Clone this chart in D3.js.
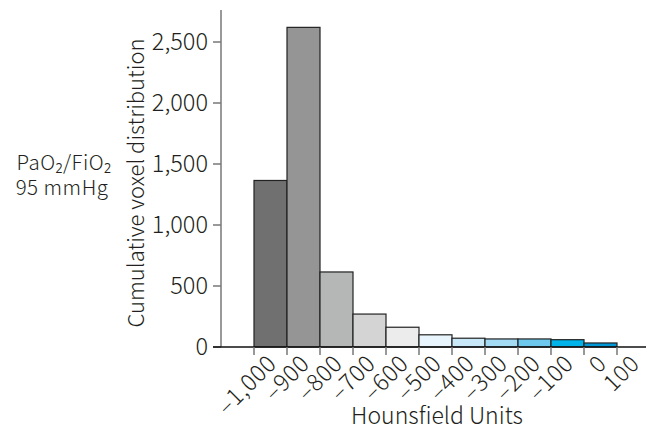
<!DOCTYPE html>
<html><head><meta charset="utf-8">
<script src="https://cdn.jsdelivr.net/npm/d3@7/dist/d3.min.js"></script>
<style>body{margin:0;background:#fff;} text{font-family:"Noto Sans CJK JP","Noto Sans",sans-serif;font-weight:300;fill:#231f20;}</style>
</head><body><svg id="c" width="646" height="431"></svg>
<script>
const binStarts = [-1000,-900,-800,-700,-600,-500,-400,-300,-200,-100,0];
const counts = [1365,2620,615,270,162,100,72,66,66,60,33];
const barColors = ["#707070","#959595","#b5b6b6","#d4d4d4","#ececec","#e8f5fc","#c8e8f8","#a3daf4","#6ec8ee","#00b3e8","#0097d6"];
const xTicks = [-1000,-900,-800,-700,-600,-500,-400,-300,-200,-100,0,100];
const yTicks = [0,500,1000,1500,2000,2500];

const svg = d3.select("#c");
const x = d3.scaleLinear().domain([-1000,100]).range([254,617]);
const y = d3.scaleLinear().domain([0,2500]).range([347,42]);

// bars
svg.selectAll("rect.bar").data(counts).enter().append("rect")
  .attr("x",(d,i)=>x(binStarts[i]))
  .attr("width",(d,i)=>x(binStarts[i]+100)-x(binStarts[i]))
  .attr("y",d=>y(d)).attr("height",d=>y(0)-y(d))
  .attr("fill",(d,i)=>barColors[i]).attr("stroke","#222").attr("stroke-width",1.2);

// y axis
svg.append("line").attr("x1",221).attr("x2",221).attr("y1",10).attr("y2",y(0)).attr("stroke","#777").attr("stroke-width",1.5);
const fmt = d3.format(",");
yTicks.forEach(t=>{
  svg.append("line").attr("x1",213).attr("x2",221).attr("y1",y(t)).attr("y2",y(t)).attr("stroke","#777").attr("stroke-width",1.5);
  svg.append("text").attr("x",208).attr("y",y(t)).attr("dy","0.36em").attr("text-anchor","end").attr("font-size",23.5).text(fmt(t));
});
// x axis
svg.append("line").attr("x1",213).attr("x2",646).attr("y1",y(0)).attr("y2",y(0)).attr("stroke","#111").attr("stroke-width",1.5);
xTicks.forEach(t=>{
  svg.append("line").attr("x1",x(t)).attr("x2",x(t)).attr("y1",y(0)).attr("y2",y(0)+8).attr("stroke","#777").attr("stroke-width",1.5);
  const lab = t<0 ? "\u2013"+fmt(-t) : fmt(t);
  svg.append("text").attr("transform",`translate(${x(t)+24},${365}) rotate(-45)`)
    .attr("text-anchor","end").attr("font-size",23).attr("letter-spacing",0.8).text(lab);
});
svg.append("text").attr("x",437).attr("y",424).attr("text-anchor","middle").attr("font-size",23).text("Hounsfield Units");
svg.append("text").attr("transform","translate(144,183) rotate(-90)").attr("text-anchor","middle").attr("font-size",22).text("Cumulative voxel distribution");
const lt = svg.append("text").attr("text-anchor","middle").attr("font-size",20.5).attr("letter-spacing",0.5);
lt.append("tspan").attr("x",64).attr("y",170).text("PaO\u2082/FiO\u2082");
lt.append("tspan").attr("x",62).attr("y",195).text("95 mmHg");
</script></body></html>
